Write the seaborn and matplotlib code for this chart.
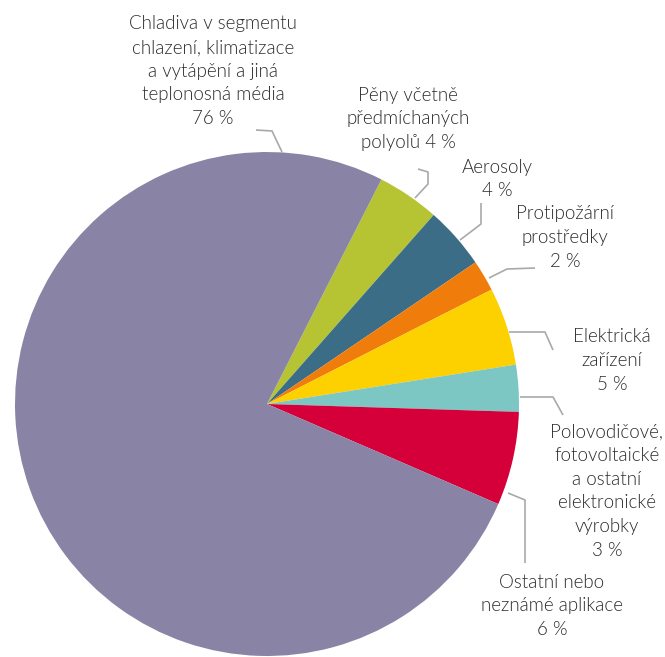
import matplotlib
matplotlib.use("Agg")
import matplotlib.pyplot as plt
from matplotlib import font_manager
import seaborn as sns

# Shares of F-gas use by application (%), in clockwise order from the top
labels = [
    "Pěny včetně\npředmíchaných\npolyolů 4 %",
    "Aerosoly\n4 %",
    "Protipožární\nprostředky\n2 %",
    "Elektrická\nzařízení\n5 %",
    "Polovodičové,\nfotovoltaické\na ostatní\nelektronické\nvýrobky\n3 %",
    "Ostatní nebo\nneznámé aplikace\n6 %",
    "Chladiva v segmentu\nchlazení, klimatizace\na vytápění a jiná\nteplonosná média\n76 %",
]
values = [4, 4, 2, 5, 3, 6, 76]
colors = ["#b6c434", "#3b6d86", "#f07c0c", "#fdd000", "#7cc6c4", "#d5003a", "#8984a6"]

sns.set_theme(style="white")
available = {f.name for f in font_manager.fontManager.ttflist}
family = [f for f in ["Lato", "Liberation Sans", "DejaVu Sans"] if f in available]
plt.rcParams["font.family"] = family

W, H = 665, 657
fig = plt.figure(figsize=(W / 100, H / 100), dpi=100)
ax = fig.add_axes([0, 0, 1, 1])

cx, cy, r = 267, H - 404, 252
ax.pie(values, colors=colors, startangle=63, counterclock=False,
       center=(cx, cy), radius=r, frame=True,
       wedgeprops=dict(linewidth=0))
ax.set_xlim(0, W)
ax.set_ylim(0, H)
ax.set_aspect("equal")
ax.axis("off")

def fy(y):
    return H - y

# Label text blocks: (centre x, first line centre y) in pixel layout
text_pos = [
    (408, 95),
    (497, 167),
    (565, 214),
    (612, 337),
    (607, 432),
    (552, 582),
    (213, 24),
]
line_step = 23.6
for lab, (x, y) in zip(labels, text_pos):
    for i, line in enumerate(lab.split("\n")):
        ax.text(x, fy(y + i * line_step), line, ha="center", va="center",
                fontsize=13.5, fontweight=300, color="#2b2b2b")

# Leader lines from the pie edge to each label
leaders = [
    [(415, 198), (428, 184), (428, 172), (418, 169)],
    [(460, 240), (481, 224), (481, 203)],
    [(489, 278), (507, 269), (535, 268)],
    [(509, 332), (545, 332), (553, 350)],
    [(520, 397), (553, 397), (563, 415)],
    [(508, 493), (525, 500), (525, 563)],
    [(282, 152), (272, 131), (256, 130)],
]
for pts in leaders:
    xs = [p[0] for p in pts]
    ys = [fy(p[1]) for p in pts]
    ax.plot(xs, ys, color="#a9a9a9", lw=1.2, solid_capstyle="butt")

fig.savefig("out.png", dpi=100, facecolor="white")
